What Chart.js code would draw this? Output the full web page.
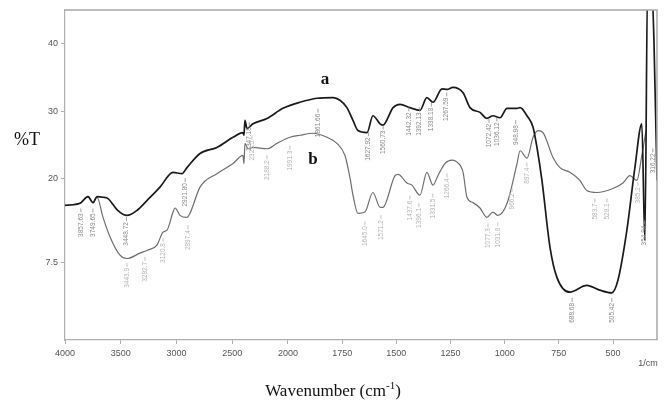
<!DOCTYPE html>
<html><head><meta charset="utf-8">
<script src="https://cdn.jsdelivr.net/npm/chart.js@4/dist/chart.umd.min.js"></script>
<style>html,body{margin:0;padding:0;background:#fff;}#wrap{width:665px;height:406px;position:relative;}</style>
</head><body><div id="wrap"><canvas id="c" width="665" height="406"></canvas></div>
<script>
// ---- data ----
const xTickLabels = [4000,3500,3000,2500,2000,1750,1500,1250,1000,750,500];
const yTickValues = [7.5,20,30,40];

const aWave = [4000,3865,3794,3749,3713,3659,3614,3530,3444,3350,3265,3148,3031,2951,2906,2789,2637,2493,2404,2395,2386,2368,2314,2188,2045,1945,1866,1792,1760,1728,1700,1677,1635,1608,1575,1562,1515,1483,1437,1391,1359,1331,1289,1266,1239,1192,1160,1114,1082,1054,1022,989,943,929,897,869,851,828,791,759,699,621,561,506,477,436,399,367,353,340,324,311,297];
const aT    = [16.0,16.3,17.3,16.4,17.3,17.2,17.0,15.3,14.5,15.3,16.7,18.7,20.9,20.7,21.6,23.7,24.6,26.1,26.8,26.4,28.6,27.4,28.1,28.9,30.4,31.3,31.9,32.0,31.6,30.5,28.6,27.1,26.8,29.3,28.1,27.9,30.5,31.0,30.5,30.1,32.0,31.3,33.3,33.2,33.5,32.7,30.5,29.8,28.9,29.3,29.0,30.4,30.4,30.5,29.3,27.6,24.6,19.7,9.8,5.3,3.1,4.1,3.4,3.0,4.9,12.3,21.6,28.1,10.8,50,50,40.4,19.7];

const bWave = [4000,3865,3794,3749,3713,3659,3596,3507,3444,3327,3265,3175,3121,3085,3031,3013,2969,2906,2879,2789,2637,2493,2404,2395,2386,2359,2314,2188,2099,1991,1945,1885,1820,1774,1737,1714,1700,1677,1645,1608,1575,1562,1506,1492,1451,1428,1391,1359,1331,1308,1276,1243,1220,1192,1174,1146,1114,1082,1054,1031,989,943,929,897,869,846,823,777,745,699,653,621,574,500,454,422,390,367,348];
const bT    = [16.0,16.3,17.3,16.4,17.2,14.2,11.3,8.6,8.1,8.9,9.3,10.1,12.0,12.3,15.0,15.6,14.5,14.2,14.8,18.7,20.7,22.2,23.4,22.2,25.2,24.4,24.6,24.4,25.2,26.1,26.4,26.7,26.1,25.2,23.4,20.1,17.5,14.8,15.0,17.9,15.7,15.7,20.4,20.6,19.3,19.0,17.5,20.9,19.0,20.4,22.2,22.7,22.4,20.9,17.2,16.4,15.6,14.2,15.0,14.5,16.3,22.2,24.1,23.0,26.1,27.1,26.8,23.1,21.6,20.9,19.7,18.2,17.9,18.5,19.3,20.4,19.7,23.4,27.1];

const aPeakWave = [3857.63,3749.65,3448.72,2921.80,2347.18,1861.66,1627.92,1560.73,1442.32,1392.13,1338.18,1267.59,1072.42,1036.12,948.98,688.68,505.42,354.94,316.22];
const aPeakTop  = [14.8,14.8,13.5,19.3,27.6,29.6,26.1,27.1,29.8,29.8,30.5,32.0,28.1,28.3,27.9,1.5,1.5,13.0,23.7];
const bPeakWave = [3443.9,3282.7,3120.8,2897.4,2323.5,2188.2,1991.3,1645.0,1571.2,1437.6,1396.1,1331.5,1266.4,1077.3,1031.8,966.2,897.4,583.7,528.1,385.2];
const bPeakTop  = [6.7,7.6,10.4,12.3,25.6,22.7,24.1,12.9,13.8,16.7,15.6,17.0,20.0,12.6,12.7,17.8,21.6,16.3,16.3,18.7];

// split wavenumber scale (doubled below 2000 cm-1)
function u(w){ return w >= 2000 ? (4000 - w) * 0.1115 : 223 + (2000 - w) * 0.2167; }

const pts = (W, T) => W.map((w, i) => ({x: u(w), y: T[i]}));

const decor = {
  id: 'decor',
  afterDatasetsDraw(chart) {
    const ctx = chart.ctx, xs = chart.scales.x, ys = chart.scales.y, ca = chart.chartArea;
    ctx.save();
    ctx.strokeStyle = '#a8a8a8'; ctx.lineWidth = 1.5;
    ctx.beginPath(); ctx.moveTo(ca.left, ca.top); ctx.lineTo(ca.right, ca.top); ctx.lineTo(ca.right, ca.bottom); ctx.stroke();
    function peaks(W, T, color, dec) {
      ctx.fillStyle = color; ctx.strokeStyle = color; ctx.lineWidth = 0.8;
      ctx.font = '6.5px "Liberation Sans", Arial, sans-serif';
      W.forEach((w, i) => {
        const px = xs.getPixelForValue(u(w)), py = ys.getPixelForValue(T[i]);
        ctx.beginPath(); ctx.moveTo(px, py - 5); ctx.lineTo(px, py - 1); ctx.stroke();
        ctx.save(); ctx.translate(px, py); ctx.rotate(-Math.PI / 2);
        ctx.textAlign = 'right'; ctx.textBaseline = 'middle';
        ctx.fillText(w.toFixed(dec), 0, 0);
        ctx.restore();
      });
    }
    peaks(aPeakWave, aPeakTop, '#8a8a8a', 2);
    peaks(bPeakWave, bPeakTop, '#b4b4b4', 1);
    ctx.fillStyle = '#111'; ctx.textAlign = 'center'; ctx.textBaseline = 'middle';
    ctx.font = 'bold 17px "Liberation Serif", "Times New Roman", serif';
    ctx.fillText('a', 325, 80);
    ctx.fillText('b', 313, 160);
    ctx.font = '18px "Liberation Serif", "Times New Roman", serif';
    ctx.fillText('%T', 27, 140);
    ctx.font = '17px "Liberation Serif", "Times New Roman", serif';
    ctx.textAlign = 'left'; ctx.textBaseline = 'alphabetic';
    const t1 = 'Wavenumber (cm', t2 = '-1', t3 = ')';
    const w1 = ctx.measureText(t1).width;
    ctx.font = '11px "Liberation Serif", "Times New Roman", serif';
    const w2 = ctx.measureText(t2).width;
    ctx.font = '17px "Liberation Serif", "Times New Roman", serif';
    const w3 = ctx.measureText(t3).width;
    let x0 = 333 - (w1 + w2 + w3) / 2;
    ctx.fillText(t1, x0, 396);
    ctx.font = '11px "Liberation Serif", "Times New Roman", serif';
    ctx.fillText(t2, x0 + w1, 389);
    ctx.font = '17px "Liberation Serif", "Times New Roman", serif';
    ctx.fillText(t3, x0 + w1 + w2, 396);
    ctx.font = '9px "Liberation Sans", Arial, sans-serif';
    ctx.fillStyle = '#555'; ctx.textAlign = 'center'; ctx.textBaseline = 'middle';
    ctx.fillText('1/cm', 648, 364);
    ctx.restore();
  }
};

new Chart(document.getElementById('c'), {
  type: 'line',
  data: {
    datasets: [
      {label: 'a', data: pts(aWave, aT), borderColor: '#1a1a1a', borderWidth: 1.7, pointRadius: 0, cubicInterpolationMode: 'monotone', fill: false},
      {label: 'b', data: pts(bWave, bT), borderColor: '#6e6e6e', borderWidth: 1.2, pointRadius: 0, cubicInterpolationMode: 'monotone', fill: false}
    ]
  },
  options: {
    responsive: false, animation: false, devicePixelRatio: 1,
    layout: {padding: {top: 10, right: 8, left: 0, bottom: 0}},
    plugins: {legend: {display: false}, tooltip: {enabled: false}},
    scales: {
      x: {
        type: 'linear', min: 0, max: u(297),
        afterBuildTicks: s => { s.ticks = xTickLabels.map(w => ({value: u(w)})); },
        afterFit: s => { s.height = 66; },
        ticks: {autoSkip: false, maxRotation: 0, padding: 4, color: '#555',
                font: {size: 9, family: '"Liberation Sans", Arial, sans-serif'},
                callback: (v, i) => xTickLabels[i]},
        grid: {display: true, drawOnChartArea: false, tickLength: 4, color: '#b0b0b0'},
        border: {color: '#b0b0b0', width: 1.2}
      },
      y: {
        type: 'linear', min: -4, max: 45,
        afterBuildTicks: s => { s.ticks = yTickValues.map(v => ({value: v})); },
        afterFit: s => { s.width = 65; },
        ticks: {padding: 3, color: '#555', font: {size: 9, family: '"Liberation Sans", Arial, sans-serif'},
                callback: (v, i) => String(yTickValues[i])},
        grid: {display: true, drawOnChartArea: false, tickLength: 4, color: '#b0b0b0'},
        border: {color: '#b0b0b0', width: 1.2}
      }
    }
  },
  plugins: [decor]
});
</script></body></html>
